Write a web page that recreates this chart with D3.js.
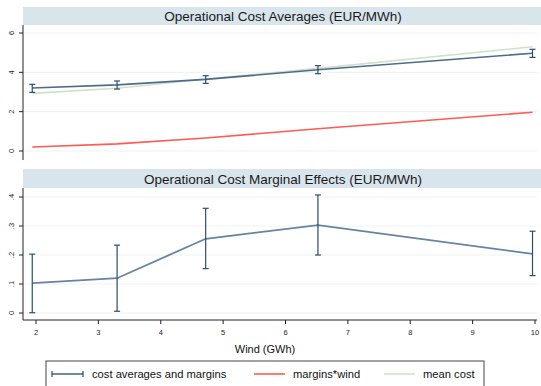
<!DOCTYPE html>
<html>
<head>
<meta charset="utf-8">
<script src="https://cdn.jsdelivr.net/npm/d3@7"></script>
<style>
  html, body { margin: 0; padding: 0; background: #fff; }
  svg { display: block; font-family: "Liberation Sans", Arial, Helvetica, sans-serif; }
</style>
</head>
<body>
<svg id="chart" width="541" height="386"></svg>
<script>
// Wind levels (GWh) at which costs and marginal effects are evaluated
const wind = [1.94, 3.30, 4.72, 6.52, 9.96];

// Panel 1: operational cost averages (EUR/MWh)
const costAvg   = [3.20, 3.36, 3.64, 4.13, 4.97];
const costAvgLo = [2.98, 3.15, 3.44, 3.93, 4.76];
const costAvgHi = [3.39, 3.56, 3.83, 4.34, 5.17];
const marginsWind = [0.20, 0.36, 0.66, 1.13, 1.97];
const meanCost  = [2.93, 3.19, 3.66, 4.20, 5.30];

// Panel 2: marginal effects (EUR/MWh)
const margEff = [0.103, 0.120, 0.256, 0.303, 0.204];
const margLo  = [0.001, 0.006, 0.153, 0.200, 0.129];
const margHi  = [0.203, 0.234, 0.361, 0.407, 0.282];

// Tick labels
const xTicks = [2, 3, 4, 5, 6, 7, 8, 9, 10];
const yTicksTop = [0, 2, 4, 6];
const yTicksBottom = [0, 0.1, 0.2, 0.3, 0.4];
const yLabelsBottom = ["0", ".1", ".2", ".3", ".4"];

const titles = ["Operational Cost Averages (EUR/MWh)", "Operational Cost Marginal Effects (EUR/MWh)"];
const legendLabels = ["cost averages and margins", "margins*wind", "mean cost"];

const COL_BLUE_LINE = "#4d6b8c";
const COL_BLUE_BAR = "#2e4d6e";
const COL_RED = "#ff5a55";
const COL_GREEN = "#cfe2c8";
const COL_BAND = "#d9e5ec";
const COL_GRID = "#eef3f2";

const svg = d3.select("#chart");

const left = 23, right = 541;
const x = d3.scaleLinear().domain([2, 10]).range([36, 535]);

const panels = [
  { bandTop: 7, bandBottom: 25, axisBottom: 160, y: d3.scaleLinear().domain([0, 6]).range([151, 33]),
    ticks: yTicksTop, labels: yTicksTop.map(String) },
  { bandTop: 169, bandBottom: 188, axisBottom: 320, y: d3.scaleLinear().domain([0, 0.4]).range([313, 197]),
    ticks: yTicksBottom, labels: yLabelsBottom }
];

panels.forEach((p, i) => {
  const g = svg.append("g");
  // title band
  g.append("rect").attr("x", left).attr("y", p.bandTop)
    .attr("width", right - left).attr("height", p.bandBottom - p.bandTop)
    .attr("fill", COL_BAND);
  g.append("text").attr("x", (left + right) / 2 + 1).attr("y", (p.bandTop + p.bandBottom) / 2 + 5)
    .attr("text-anchor", "middle").attr("font-size", 13.5).attr("fill", "#1a1a1a")
    .text(titles[i]);

  // gridlines
  g.selectAll(".grid").data(p.ticks).join("line")
    .attr("x1", left + 1).attr("x2", 537)
    .attr("y1", d => p.y(d)).attr("y2", d => p.y(d))
    .attr("stroke", COL_GRID).attr("stroke-width", 1.2);

  // y axis
  g.append("line").attr("x1", left).attr("x2", left)
    .attr("y1", p.bandBottom).attr("y2", p.axisBottom)
    .attr("stroke", "#222").attr("stroke-width", 1);
  g.selectAll(".ytick").data(p.ticks).join("line")
    .attr("x1", left - 4).attr("x2", left)
    .attr("y1", d => p.y(d)).attr("y2", d => p.y(d))
    .attr("stroke", "#222").attr("stroke-width", 1);
  g.selectAll(".ylab").data(p.ticks).join("text")
    .attr("transform", d => `translate(14,${p.y(d)}) rotate(-90)`)
    .attr("text-anchor", "middle").attr("font-size", 7.5).attr("fill", "#222")
    .text((d, k) => p.labels[k]);
});

// ---- Panel 1 marks ----
const p1 = panels[0];
const line1 = (vals) => d3.line().x((d, k) => x(wind[k])).y(d => p1.y(d))(vals);

svg.append("path").attr("d", line1(meanCost)).attr("fill", "none")
  .attr("stroke", COL_GREEN).attr("stroke-width", 1.6);
svg.append("path").attr("d", line1(marginsWind)).attr("fill", "none")
  .attr("stroke", COL_RED).attr("stroke-width", 1.6);
svg.append("path").attr("d", line1(costAvg)).attr("fill", "none")
  .attr("stroke", COL_BLUE_LINE).attr("stroke-width", 1.6);

function errorBars(yScale, lo, hi, cap) {
  const g = svg.append("g").attr("stroke", COL_BLUE_BAR).attr("stroke-width", 1.2);
  wind.forEach((w, k) => {
    const cx = x(w);
    g.append("line").attr("x1", cx).attr("x2", cx).attr("y1", yScale(lo[k])).attr("y2", yScale(hi[k]));
    g.append("line").attr("x1", cx - cap).attr("x2", cx + cap).attr("y1", yScale(lo[k])).attr("y2", yScale(lo[k]));
    g.append("line").attr("x1", cx - cap).attr("x2", cx + cap).attr("y1", yScale(hi[k])).attr("y2", yScale(hi[k]));
  });
}
errorBars(p1.y, costAvgLo, costAvgHi, 3);

// ---- Panel 2 marks ----
const p2 = panels[1];
svg.append("path")
  .attr("d", d3.line().x((d, k) => x(wind[k])).y(d => p2.y(d))(margEff))
  .attr("fill", "none").attr("stroke", "#6583a2").attr("stroke-width", 1.8);
errorBars(p2.y, margLo, margHi, 3);

// x axis (shared, under bottom panel)
svg.append("line").attr("x1", left).attr("x2", 537).attr("y1", 320).attr("y2", 320)
  .attr("stroke", "#222").attr("stroke-width", 1);
svg.selectAll(".xtick").data(xTicks).join("line")
  .attr("x1", d => x(d)).attr("x2", d => x(d)).attr("y1", 320).attr("y2", 324)
  .attr("stroke", "#222").attr("stroke-width", 1);
svg.selectAll(".xlab").data(xTicks).join("text")
  .attr("x", d => x(d)).attr("y", 334.5).attr("text-anchor", "middle")
  .attr("font-size", 7.5).attr("fill", "#222").text(d => d);
svg.append("text").attr("x", 265).attr("y", 353).attr("text-anchor", "middle")
  .attr("font-size", 11).attr("fill", "#111").text("Wind (GWh)");

// legend
const lg = svg.append("g");
lg.append("rect").attr("x", 46).attr("y", 361).attr("width", 438).attr("height", 30)
  .attr("fill", "#fff").attr("stroke", "#444").attr("stroke-width", 1);
const ly = 374;
// error-bar key
lg.append("line").attr("x1", 52).attr("x2", 83).attr("y1", ly).attr("y2", ly)
  .attr("stroke", COL_BLUE_LINE).attr("stroke-width", 1.6);
[52, 83].forEach(px => lg.append("line").attr("x1", px).attr("x2", px)
  .attr("y1", ly - 3).attr("y2", ly + 3).attr("stroke", COL_BLUE_BAR).attr("stroke-width", 1.2));
lg.append("line").attr("x1", 254).attr("x2", 285).attr("y1", ly).attr("y2", ly)
  .attr("stroke", COL_RED).attr("stroke-width", 1.6);
lg.append("line").attr("x1", 384).attr("x2", 415).attr("y1", ly).attr("y2", ly)
  .attr("stroke", COL_GREEN).attr("stroke-width", 1.6);
[[92, 0], [293, 1], [423, 2]].forEach(([tx, k]) =>
  lg.append("text").attr("x", tx).attr("y", ly + 4).attr("font-size", 11.2).attr("fill", "#111")
    .text(legendLabels[k]));
</script>
</body>
</html>
